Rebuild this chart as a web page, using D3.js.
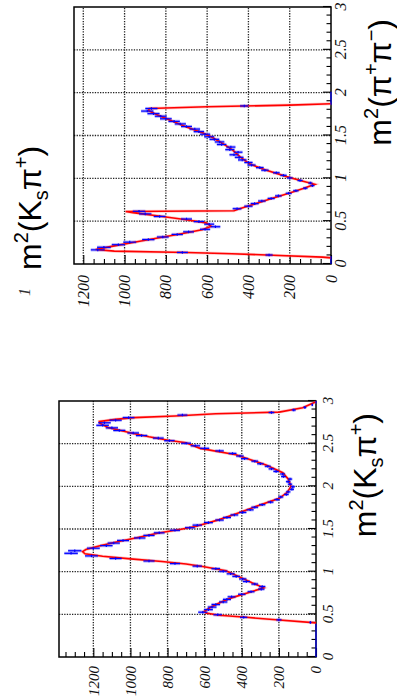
<!DOCTYPE html>
<html>
<head>
<meta charset="utf-8">
<script src="https://cdn.jsdelivr.net/npm/d3@7"></script>
<style>
  html, body { margin: 0; padding: 0; background: #fff; }
  svg { display: block; }
</style>
</head>
<body>
<svg id="chart" width="397" height="697"></svg>
<script>
// ---- axis ticks -------------------------------------------------------
const massTicks = [0, 0.5, 1, 1.5, 2, 2.5, 3];
const massTickLabels = ["0", "0.5", "1", "1.5", "2", "2.5", "3"];
const countTicks = [0, 200, 400, 600, 800, 1000, 1200];
const countTickLabels = ["0", "200", "400", "600", "800", "1000", "1200"];

// ---- histogram binning (100 bins, 0 .. 3 GeV^2) -------------------------
const binLow = 0;
const binWidth = 0.03;

// m^2(pi+ pi-) projection: entries per bin (null = empty, not drawn)
const pipiCounts = [
  0, 0, 0, 300, 720, 1130, 1100, 1030, 975, 885,
  815, 745, 690, 610, 560, 590, 640, 700, 830, 900,
  930, 455, 400, 370, 335, 290, 255, 205, 170, 125,
  90, 100, 150, 200, 230, 265, 320, 345, 385, 400,
  430, 445, 470, 450, 490, 485, 530, 540, 565, 590,
  610, 640, 660, 700, 730, 760, 800, 825, 860, 890,
  870, 420, 0, 0, 0, 0, 0, null, null, null,
  null, null, null, null, null, null, null, null, null, null,
  null, null, null, null, null, null, null, null, null, null,
  null, null, null, null, null, null, null, null, null, null
];
// fit curve for m^2(pi+ pi-)
const pipiFitMass = [0.072, 0.08, 0.10, 0.12, 0.135, 0.15, 0.17, 0.20, 0.25, 0.30,
  0.35, 0.40, 0.44, 0.48, 0.52, 0.56, 0.60, 0.613, 0.622, 0.64,
  0.70, 0.76, 0.83, 0.88, 0.93, 0.97, 1.02, 1.10, 1.17, 1.25,
  1.33, 1.40, 1.47, 1.53, 1.60, 1.67, 1.74, 1.79, 1.815, 1.835,
  1.855, 1.87];
const pipiFitValue = [0, 40, 250, 480, 700, 1050, 1140, 1075, 960, 846,
  731, 625, 580, 605, 710, 835, 960, 995, 470, 450,
  370, 295, 200, 135, 78, 140, 215, 320, 395, 440,
  476, 520, 570, 620, 700, 770, 840, 884, 880, 600,
  200, 0];

// m^2(Ks pi+) projection: entries per bin
const kspiCounts = [
  0, 0, 0, 0, 0, 0, 0, 0, 0, 0,
  0, 0, 0, 30, 200, 390, 530, 610, 580, 560,
  540, 500, 480, 455, 400, 350, 295, 290, 330, 375,
  395, 430, 460, 500, 540, 640, 760, 900, 1080, 1210,
  1320, 1300, 1200, 1130, 1090, 1040, 950, 900, 845, 760,
  680, 640, 580, 520, 480, 440, 395, 355, 330, 290,
  245, 210, 190, 160, 150, 130, 125, 140, 150, 140,
  175, 180, 215, 240, 260, 300, 330, 385, 410, 450,
  520, 600, 650, 700, 790, 850, 940, 985, 1060, 1100,
  1150, 1140, 1080, 1010, 720, 240, 120, 60, 20, 0
];
// fit curve for m^2(Ks pi+)
const kspiFitMass = [0.40, 0.44, 0.465, 0.49, 0.515, 0.535, 0.58, 0.63, 0.69, 0.75,
  0.81, 0.87, 0.93, 1.01, 1.06, 1.09, 1.12, 1.15, 1.18, 1.21,
  1.235, 1.26, 1.30, 1.35, 1.40, 1.45, 1.50, 1.53, 1.61, 1.68,
  1.75, 1.86, 1.93, 2.00, 2.08, 2.16, 2.25, 2.37, 2.445, 2.51,
  2.54, 2.58, 2.62, 2.69, 2.74, 2.76, 2.785, 2.805, 2.825, 2.85,
  2.87, 2.92, 2.99];
const kspiFitValue = [0, 233, 377, 521, 593, 602, 570, 525, 460, 370,
  282, 345, 404, 485, 610, 700, 830, 1000, 1150, 1245,
  1258, 1240, 1170, 1070, 960, 855, 720, 650, 521, 430,
  341, 198, 155, 135, 148, 179, 269, 431, 625, 700,
  797, 900, 984, 1121, 1165, 1167, 1080, 984, 760, 540,
  198, 72, 0];

// ---- panel layout (each plot is drawn upright, then turned 90 deg) -------
const panels = [
  { tx: 74, ty: 264, W: 257, H: 257, cmax: 1245, counts: pipiCounts,
    fitM: pipiFitMass, fitV: pipiFitValue, massPad: 4, countPad: 11, tickSize: 16,
    title: [["m", ""], ["2", "sup"], ["(", ""], ["\u03c0", ""], ["+", "sup"], ["\u03c0", ""], ["\u2212", "sup"], [")", ""]] },
  { tx: 59, ty: 657, W: 256, H: 257, cmax: 1385, counts: kspiCounts,
    fitM: kspiFitMass, fitV: kspiFitValue, massPad: 6, countPad: 9, tickSize: 15,
    title: [["m", ""], ["2", "sup"], ["(", ""], ["K", ""], ["s", "sub"], ["\u03c0", ""], ["+", "sup"], [")", ""]] }
];

const svg = d3.select("#chart");
svg.append("rect").attr("width", 397).attr("height", 697).attr("fill", "#fff");

const tickFont = "'Liberation Serif', 'DejaVu Serif', serif";
const titleFont = "'Liberation Sans', Arial, Helvetica, sans-serif";

function writeTitle(textSel, parts) {
  let shift = 0;
  parts.forEach(([t, kind]) => {
    const target = kind === "sup" ? -13 : kind === "sub" ? 7 : 0;
    textSel.append("tspan")
      .attr("dy", target - shift)
      .attr("font-size", kind ? 20 : 32)
      .text(t);
    shift = target;
  });
}

panels.forEach(p => {
  const g = svg.append("g")
    .attr("transform", `translate(${p.tx},${p.ty}) rotate(-90)`);

  const x = d3.scaleLinear().domain([0, 3]).range([0, p.W]);
  const y = d3.scaleLinear().domain([0, p.cmax]).range([p.H, 0]);

  // dotted grid
  const grid = g.append("g")
    .attr("stroke", "#222").attr("stroke-width", 1.3)
    .attr("stroke-dasharray", "1.3,1.3").attr("fill", "none");
  massTicks.filter(m => m > 0 && m < 3).forEach(m => {
    grid.append("line").attr("x1", x(m)).attr("x2", x(m)).attr("y1", 0).attr("y2", p.H);
  });
  countTicks.filter(c => c > 0).forEach(c => {
    grid.append("line").attr("x1", 0).attr("x2", p.W).attr("y1", y(c)).attr("y2", y(c));
  });

  // frame
  g.append("rect").attr("x", 0).attr("y", 0).attr("width", p.W).attr("height", p.H)
    .attr("fill", "none").attr("stroke", "#000").attr("stroke-width", 1.5);

  // count axis (left in the upright plot)
  g.append("g").attr("class", "major")
    .call(d3.axisLeft(y).tickValues(countTicks)
      .tickFormat((d, i) => countTickLabels[i])
      .tickSize(-9).tickPadding(p.countPad));
  g.append("g")
    .call(d3.axisLeft(y).tickValues(d3.range(50, p.cmax, 50).filter(v => v % 200 !== 0))
      .tickFormat("").tickSize(-5));

  // mass axis (bottom in the upright plot)
  g.append("g").attr("transform", `translate(0,${p.H})`)
    .call(d3.axisBottom(x).tickValues(massTicks)
      .tickFormat((d, i) => massTickLabels[i])
      .tickSize(-8).tickPadding(p.massPad));
  g.append("g").attr("transform", `translate(0,${p.H})`)
    .call(d3.axisBottom(x).tickValues(d3.range(1, 30).map(k => k / 10).filter(m => Math.abs(m * 2 - Math.round(m * 2)) > 1e-6))
      .tickFormat("").tickSize(-4.5));

  g.selectAll(".domain").remove();
  g.selectAll(".tick line").attr("stroke", "#000").attr("stroke-width", 1.1);
  g.selectAll(".tick text")
    .attr("font-family", tickFont).attr("font-style", "italic")
    .attr("font-size", p.tickSize).attr("fill", "#111");

  // histogram: error boxes, fit curve, error bars
  const bins = p.counts.map((v, i) => ({
    lo: binLow + i * binWidth,
    hi: binLow + (i + 1) * binWidth,
    c: binLow + (i + 0.5) * binWidth,
    v: v,
    e: v == null ? 0 : Math.sqrt(v)   // Poisson errors
  })).filter(b => b.v != null);

  g.append("g").selectAll("rect").data(bins.filter(b => b.v > 0)).join("rect")
    .attr("x", b => x(b.lo) - 0.3).attr("width", b => x(b.hi) - x(b.lo) + 0.6)
    .attr("y", b => y(b.v + b.e)).attr("height", b => y(b.v - b.e) - y(b.v + b.e))
    .attr("fill", "rgb(110,110,255)").attr("opacity", 0.55);

  const fit = p.fitM.map((m, i) => [m, p.fitV[i]]);
  const line = d3.line().x(d => x(d[0])).y(d => y(d[1]));
  g.append("path").attr("d", line(fit)).attr("fill", "none")
    .attr("stroke", "rgb(255,130,130)").attr("stroke-width", 3).attr("opacity", 0.4);
  g.append("path").attr("d", line(fit)).attr("fill", "none")
    .attr("stroke", "#f00").attr("stroke-width", 1.6);

  const bars = g.append("g").attr("stroke", "#00f").attr("stroke-width", 1.2);
  bins.forEach(b => {
    bars.append("line").attr("x1", x(b.lo)).attr("x2", x(b.hi))
      .attr("y1", y(b.v)).attr("y2", y(b.v));
    if (b.e > 0) {
      bars.append("line").attr("x1", x(b.c)).attr("x2", x(b.c))
        .attr("y1", y(b.v - b.e)).attr("y2", y(b.v + b.e));
    }
  });

  // axis title, right-aligned at the end of the mass axis
  const t = g.append("text")
    .attr("x", p.W - 12).attr("y", p.H + 60)
    .attr("text-anchor", "end")
    .attr("font-family", titleFont).attr("fill", "#000");
  writeTitle(t, p.title);
});

// title of the neighbouring projection
const side = svg.append("text")
  .attr("transform", "translate(41,270) rotate(-90)")
  .attr("font-family", titleFont).attr("fill", "#000");
writeTitle(side, [["m", ""], ["2", "sup"], ["(", ""], ["K", ""], ["s", "sub"], ["\u03c0", ""], ["+", "sup"], [")", ""]]);

// stray tick digit from the neighbouring frame
svg.append("text")
  .attr("transform", "translate(30,296) rotate(-90)")
  .attr("font-family", tickFont).attr("font-style", "italic")
  .attr("font-size", 16).attr("fill", "#333").text("1");
</script>
</body>
</html>
